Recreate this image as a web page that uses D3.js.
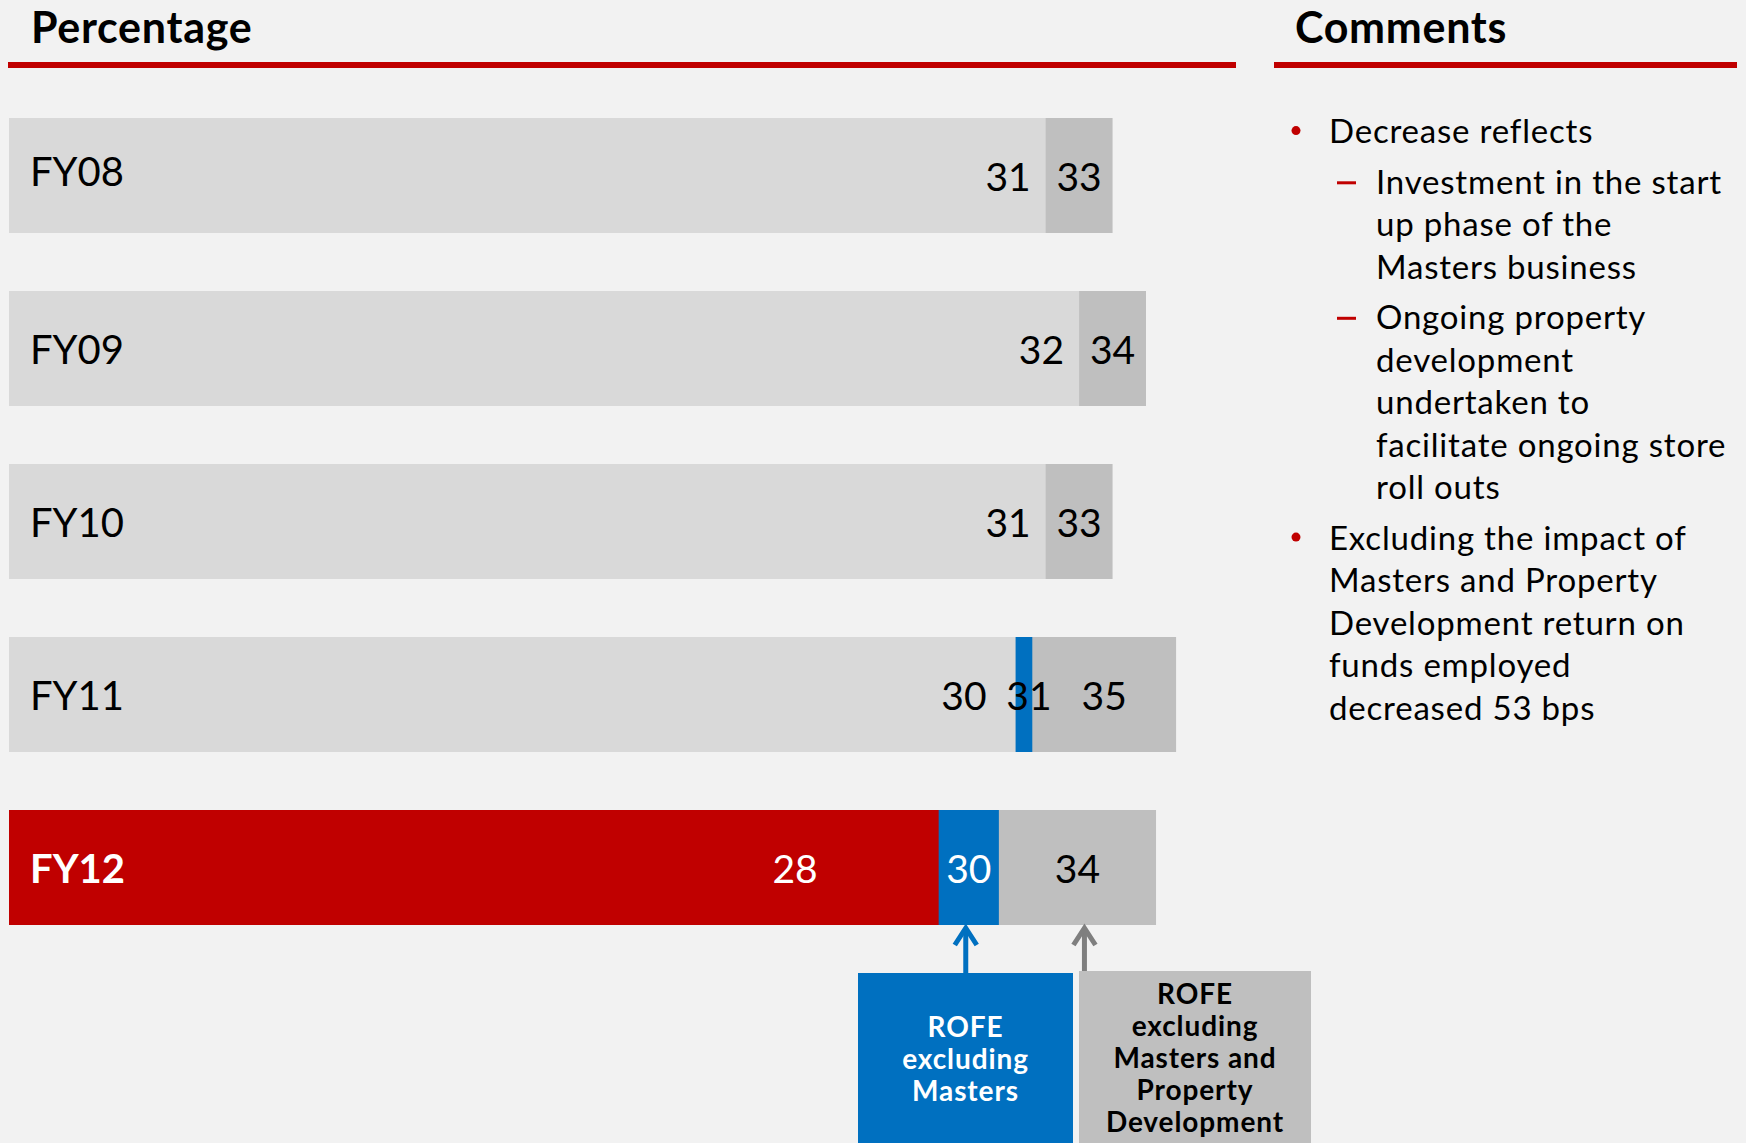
<!DOCTYPE html>
<html>
<head>
<meta charset="utf-8">
<script src="https://d3js.org/d3.v7.min.js"></script>
<style>
  html, body { margin: 0; padding: 0; background: #F2F2F2; }
  svg { display: block; }
  text { font-family: Lato, "Open Sans", sans-serif; }
</style>
</head>
<body>
<svg id="chart" width="1746" height="1143"></svg>
<script>
// Return on funds employed (%) by financial year
const categories = ["FY08", "FY09", "FY10", "FY11", "FY12"];
const rofe = [31, 32, 31, 30.1, 27.8];
const rofeExMasters = [null, null, null, 30.6, 29.6];
const rofeExMastersProperty = [33, 34, 33, 34.9, 34.3];
const highlightYear = "FY12";

const boxLabels = [
  ["ROFE", "excluding", "Masters"],
  ["ROFE", "excluding", "Masters and", "Property", "Development"]
];

// Commentary: each bullet has its own lines and optional sub-points
const comments = [
  { lines: ["Decrease reflects"], subs: [
      ["Investment in the start", "up phase of the", "Masters business"],
      ["Ongoing property", "development", "undertaken to", "facilitate ongoing store", "roll outs"]
  ]},
  { lines: ["Excluding the impact of", "Masters and Property", "Development return on", "funds employed", "decreased 53 bps"], subs: [] }
];

const RED = "#C00000", BLUE = "#0070C0", LIGHT = "#D9D9D9", GREY = "#BFBFBF", ARROW_GREY = "#7F7F7F";

const svg = d3.select("#chart");
svg.append("rect").attr("width", 1746).attr("height", 1143).attr("fill", "#F2F2F2");

// Section headers
const headers = [
  { text: "Percentage", x: 31, x0: 8, x1: 1236 },
  { text: "Comments", x: 1295, x0: 1274, x1: 1737 }
];
headers.forEach(h => {
  svg.append("text").attr("x", h.x).attr("y", 43)
    .attr("font-size", 43).attr("font-weight", 700).attr("letter-spacing", 0.7)
    .attr("fill", "#000").text(h.text);
  svg.append("rect").attr("x", h.x0).attr("y", 62).attr("width", h.x1 - h.x0).attr("height", 6).attr("fill", RED);
});

// Scales
const x = d3.scaleLinear().domain([0, 34]).range([9, 1146]);
const y = d3.scaleBand().domain(categories).range([118, 925]).paddingInner(58 / 173).paddingOuter(0);

const rows = categories.map((c, i) => ({
  cat: c,
  base: rofe[i],
  exM: rofeExMasters[i],
  exMP: rofeExMastersProperty[i],
  hi: c === highlightYear
}));

const g = svg.append("g");
const bh = y.bandwidth();

// Bars: overlapping series drawn from zero, widest first
rows.forEach(r => {
  const top = y(r.cat);
  g.append("rect").attr("x", x(0)).attr("y", top).attr("width", x(r.exMP) - x(0)).attr("height", bh).attr("fill", GREY);
  if (r.exM != null)
    g.append("rect").attr("x", x(0)).attr("y", top).attr("width", x(r.exM) - x(0)).attr("height", bh).attr("fill", BLUE);
  g.append("rect").attr("x", x(0)).attr("y", top).attr("width", x(r.base) - x(0)).attr("height", bh)
    .attr("fill", r.hi ? RED : LIGHT);
});

// Category labels
rows.forEach(r => {
  g.append("text").attr("x", 30).attr("y", y(r.cat) + bh / 2 + (r.cat === "FY08" ? 10 : 15))
    .attr("font-size", 40).attr("font-weight", r.hi ? 700 : 400)
    .attr("fill", r.hi ? "#fff" : "#000").text(r.cat);
});

// Value labels
const fmt = d3.format(".0f");
const baseLabelShift = { FY11: -14, FY12: -106 };
rows.forEach(r => {
  const cy = y(r.cat) + bh / 2 + 15;
  g.append("text").attr("x", x(r.base) - 15 + (baseLabelShift[r.cat] || 0)).attr("y", cy)
    .attr("text-anchor", "end").attr("font-size", 39)
    .attr("fill", r.hi ? "#fff" : "#000").text(fmt(r.base));
  let prev = r.base;
  if (r.exM != null) {
    g.append("text").attr("x", (x(r.base) + x(r.exM)) / 2 + (r.hi ? 0 : 5)).attr("y", cy)
      .attr("text-anchor", "middle").attr("font-size", 39)
      .attr("fill", r.hi ? "#fff" : "#000").text(fmt(r.exM));
    prev = r.exM;
  }
  g.append("text").attr("x", (x(prev) + x(r.exMP)) / 2).attr("y", cy)
    .attr("text-anchor", "middle").attr("font-size", 39)
    .attr("fill", "#000").text(fmt(r.exMP));
});

// Call-out boxes with arrows pointing at the highlighted year's segments
const hi = rows.find(r => r.hi);
const barBottom = y(hi.cat) + bh;
const callouts = [
  { x0: 858, x1: 1073, top: 973, fill: BLUE, textFill: "#fff", arrow: BLUE,
    ax: (x(hi.base) + x(hi.exM)) / 2 - 3, lines: boxLabels[0], firstBase: 1036.5 },
  { x0: 1079, x1: 1311, top: 971, fill: GREY, textFill: "#000", arrow: ARROW_GREY,
    ax: (x(hi.exM) + x(hi.exMP)) / 2 + 7, lines: boxLabels[1], firstBase: 1003.5 }
];
callouts.forEach(c => {
  svg.append("rect").attr("x", c.x0).attr("y", c.top).attr("width", c.x1 - c.x0).attr("height", 300).attr("fill", c.fill);
  svg.append("line").attr("x1", c.ax).attr("x2", c.ax).attr("y1", barBottom + 6).attr("y2", c.top)
    .attr("stroke", c.arrow).attr("stroke-width", 5);
  svg.append("path").attr("d", `M${c.ax - 11},${barBottom + 20} L${c.ax},${barBottom + 3} L${c.ax + 11},${barBottom + 20}`)
    .attr("fill", "none").attr("stroke", c.arrow).attr("stroke-width", 5).attr("stroke-linejoin", "miter");
  const cx = (c.x0 + c.x1) / 2;
  c.lines.forEach((t, i) => {
    svg.append("text").attr("x", cx).attr("y", c.firstBase + i * 32).attr("text-anchor", "middle")
      .attr("font-size", 28).attr("font-weight", 700).attr("letter-spacing", 0.9)
      .attr("fill", c.textFill).text(t);
  });
});

// Comments column
const lineH = 42.5, paraGap = 8;
let baseline = 143.3;
const cg = svg.append("g");
const bodyText = (xx, yy, t) => cg.append("text").attr("x", xx).attr("y", yy)
  .attr("font-size", 33).attr("letter-spacing", 0.8).attr("fill", "#000").text(t);
comments.forEach((b, bi) => {
  if (bi > 0) baseline += paraGap;
  cg.append("circle").attr("cx", 1296).attr("cy", baseline - 12.7).attr("r", 4.5).attr("fill", RED);
  b.lines.forEach(t => {
    bodyText(1329, baseline, t);
    baseline += lineH;
  });
  b.subs.forEach(s => {
    baseline += paraGap;
    cg.append("rect").attr("x", 1337).attr("y", baseline - 12.5).attr("width", 19).attr("height", 3).attr("fill", RED);
    s.forEach(t => {
      bodyText(1376, baseline, t);
      baseline += lineH;
    });
  });
});
</script>
</body>
</html>
